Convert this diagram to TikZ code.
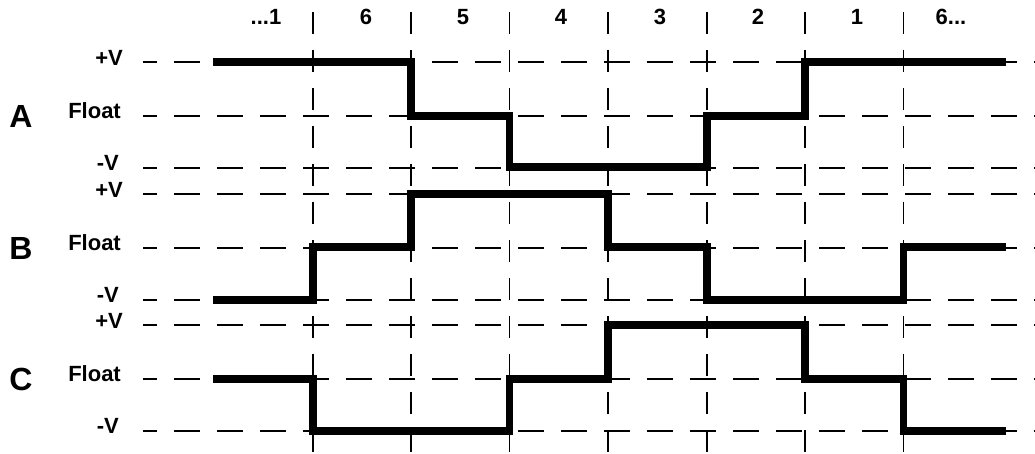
\documentclass[tikz,border=0pt]{standalone}
\usepackage{fontspec}
\setmainfont{Liberation Sans}
\usetikzlibrary{positioning}

\begin{document}
\begin{tikzpicture}[
    x=1pt, y=-1pt,
    font=\bfseries\fontsize{22}{26}\selectfont,
    grid_h/.style={line width=1.4pt, dash pattern=on 26pt off 17pt, dash phase=12pt},
    grid_v/.style={line width=1.4pt, dash pattern=on 22pt off 16pt},
    wave/.style={line width=7.5pt, line join=miter, line cap=butt},
    level_lbl/.style={anchor=east, inner sep=0pt},
    phase_lbl/.style={inner sep=0pt},
    chan_lbl/.style={font=\bfseries\fontsize{32}{36}\selectfont, inner sep=0pt}
]
\useasboundingbox (0,0) rectangle (1035,454);

% Horizontal level lines and labels
\foreach \ch/\y in {A/62, B/194, C/325} {
    \draw[grid_h] (143,\y) -- (1035,\y);
    \draw[grid_h] (143,\y+54) -- (1035,\y+54);
    \draw[grid_h] (143,\y+106) -- (1035,\y+106);
    \node[level_lbl] (pos\ch) at (123,\y-4) {+V};
    \node[level_lbl] (flt\ch) at (121,\y+49) {Float};
    \node[level_lbl] (neg\ch) at (119,\y+101) {-V};
    \node[chan_lbl] (ch\ch) at (21,\y+54) {\ch};
}

% Vertical step lines
\foreach \x in {313, 411, 509.5, 608, 707, 805, 903.5}
    \draw[grid_v] (\x,12) -- (\x,454);

% Step numbers
\node[phase_lbl] (s0) at (266,17) {...1};
\node[phase_lbl] (s1) at (366,17) {6};
\node[phase_lbl] (s2) at (463,17) {5};
\node[phase_lbl] (s3) at (561,17) {4};
\node[phase_lbl] (s4) at (660,17) {3};
\node[phase_lbl] (s5) at (758,17) {2};
\node[phase_lbl] (s6) at (857,17) {1};
\node[phase_lbl] (s7) at (951,17) {6...};

% Waveforms
\draw[wave] (213,62) -| (411,116) -| (509.5,167) -| (707,116) -| (805,62) -- (1006,62);
\draw[wave] (213,300) -| (313,247) -| (411,194) -| (608,247) -| (707,300) -| (903.5,247) -- (1006,247);
\draw[wave] (213,379) -| (313,431) -| (509.5,379) -| (608,325) -| (805,379) -| (903.5,431) -- (1006,431);

\end{tikzpicture}
\end{document}
